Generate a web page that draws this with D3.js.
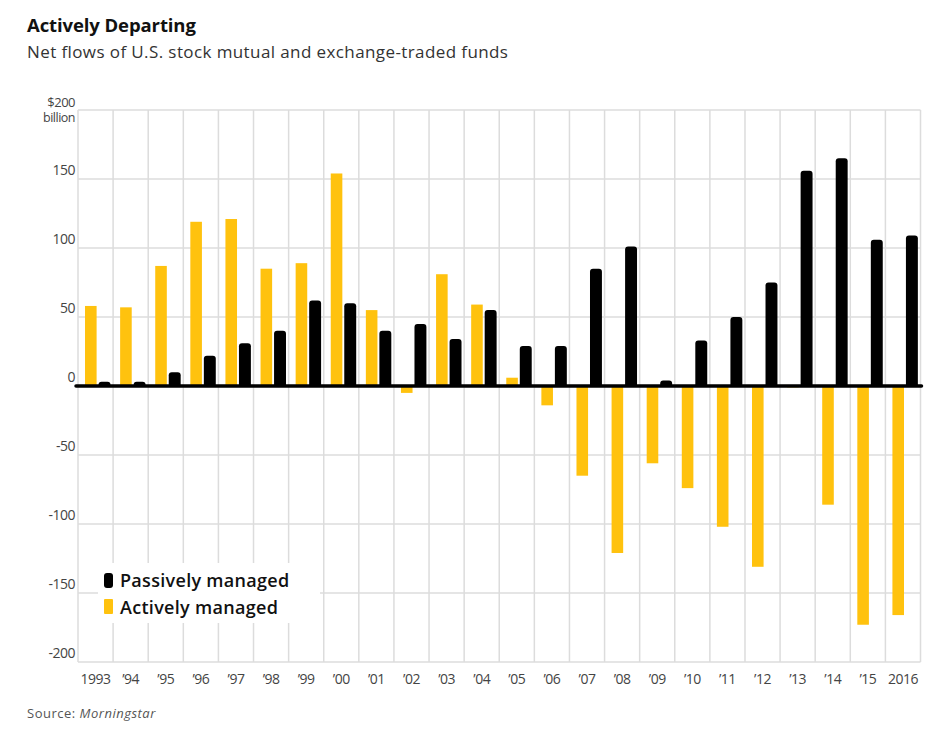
<!DOCTYPE html>
<html>
<head>
<meta charset="utf-8">
<script src="https://cdn.jsdelivr.net/npm/d3@7"></script>
<style>
  html, body { margin: 0; padding: 0; background: #fff; }
  svg { display: block; font-family: "Open Sans", "Noto Sans", sans-serif; }
</style>
</head>
<body>
<svg id="chart" width="942" height="745"></svg>
<script>
const years = ["1993","’94","’95","’96","’97","’98","’99","’00","’01","’02","’03","’04","’05","’06","’07","’08","’09","’10","’11","’12","’13","’14","’15","2016"];
const passive = [3, 3, 10, 22, 31, 40, 62, 60, 40, 45, 34, 55, 29, 29, 85, 101, 4, 33, 50, 75, 156, 165, 106, 109];
const active  = [58, 57, 87, 119, 121, 85, 89, 154, 55, -5, 81, 59, 6, -14, -65, -121, -56, -74, -102, -131, -1, -86, -173, -166];
const yTicks = [200, 150, 100, 50, 0, -50, -100, -150, -200];
const seriesNames = ["Passively managed", "Actively managed"];
const colors = { passive: "#000000", active: "#FFC20E" };

(function () {
const svg = d3.select("#chart");
const pLeft = 78, pRight = 920.5, pTop = 110, pBottom = 662;

const x = d3.scaleBand().domain(years).range([pLeft, pRight]).padding(0);
const y = d3.scaleLinear().domain([-200, 200]).range([pBottom, pTop]);
const bw = x.bandwidth();

// Title
svg.append("text").attr("x", 27).attr("y", 32)
  .attr("font-size", 18.5).attr("font-weight", 700).attr("fill", "#111")
  .attr("letter-spacing", -0.1)
  .text("Actively Departing");
svg.append("text").attr("x", 27).attr("y", 58)
  .attr("font-size", 17).attr("fill", "#333")
  .attr("letter-spacing", 0.4)
  .text("Net flows of U.S. stock mutual and exchange-traded funds");

// Grid
const grid = svg.append("g").attr("stroke", "#dcdcdc").attr("stroke-width", 1.5);
yTicks.forEach(t => {
  grid.append("line").attr("x1", pLeft).attr("x2", pRight).attr("y1", y(t)).attr("y2", y(t));
});
const vlines = years.map(d => x(d)).concat([pRight]);
vlines.forEach(v => {
  grid.append("line").attr("x1", v).attr("x2", v).attr("y1", pTop).attr("y2", pBottom);
});

// Y axis labels
const yAxis = d3.axisLeft(y).tickValues(yTicks).tickSize(0).tickFormat(d => d === 200 ? "$200" : (d < 0 ? "-" + Math.abs(d) : String(d)));
const ya = svg.append("g").attr("transform", `translate(${pLeft - 3},0)`).call(yAxis);
ya.select(".domain").remove();
ya.selectAll("text").attr("font-size", 14).attr("fill", "#444")
  .attr("font-family", "'Open Sans', sans-serif")
  .attr("dy", -5).attr("text-anchor", "end").attr("x", 0)
  .attr("letter-spacing", -0.5);
ya.selectAll(".tick").filter(d => d === 200).select("text").attr("font-size", 13).attr("dy", -4);
svg.append("text").attr("x", pLeft - 3).attr("y", y(200) + 12).attr("text-anchor", "end")
  .attr("font-size", 12.5).attr("fill", "#444").attr("letter-spacing", -0.5).text("billion");

// X axis labels
const xAxis = d3.axisBottom(x).tickSize(0);
const xa = svg.append("g").attr("transform", `translate(0,${pBottom})`).call(xAxis);
xa.select(".domain").remove();
xa.selectAll("text").attr("font-size", 14).attr("fill", "#444")
  .attr("font-family", "'Open Sans', sans-serif")
  .attr("dy", 0).attr("y", 22).attr("letter-spacing", -0.5);

// Active bars (yellow)
svg.append("g").selectAll("rect").data(active).join("rect")
  .attr("x", (d, i) => x(years[i]) + bw * 0.2)
  .attr("width", bw * 0.33)
  .attr("y", d => d >= 0 ? y(d) : y(0))
  .attr("height", d => Math.abs(y(d) - y(0)))
  .attr("fill", colors.active);

// Passive bars (black) with rounded tops
function roundTop(x0, w, yTop, yBase, r) {
  const h = yBase - yTop;
  const rr = Math.min(r, h, w / 2);
  return `M${x0},${yBase} L${x0},${yTop + rr} Q${x0},${yTop} ${x0 + rr},${yTop} L${x0 + w - rr},${yTop} Q${x0 + w},${yTop} ${x0 + w},${yTop + rr} L${x0 + w},${yBase} Z`;
}
svg.append("g").selectAll("path").data(passive).join("path")
  .attr("d", (d, i) => roundTop(x(years[i]) + bw * 0.585, bw * 0.34, y(d), y(0), 3))
  .attr("fill", colors.passive);

// Zero line
svg.append("line").attr("x1", pLeft - 2).attr("x2", pRight + 1).attr("y1", y(0)).attr("y2", y(0))
  .attr("stroke", "#000").attr("stroke-width", 3.5).attr("stroke-linecap", "round");

// Legend
const lg = svg.append("g");
lg.append("rect").attr("x", 98).attr("y", 563).attr("width", 222).attr("height", 60).attr("fill", "#fff");
lg.append("rect").attr("x", 104).attr("y", 573).attr("width", 9).attr("height", 15).attr("rx", 3).attr("fill", colors.passive);
lg.append("rect").attr("x", 104).attr("y", 599).attr("width", 9).attr("height", 15).attr("rx", 1).attr("fill", colors.active);
lg.append("text").attr("x", 120).attr("y", 587).attr("font-size", 18).attr("font-weight", 600).attr("fill", "#111")
  .attr("letter-spacing", 0.3).text(seriesNames[0]);
lg.append("text").attr("x", 120).attr("y", 614).attr("font-size", 18).attr("font-weight", 600).attr("fill", "#111")
  .attr("letter-spacing", 0.3).text(seriesNames[1]);

// Source
const src = svg.append("text").attr("x", 27).attr("y", 718).attr("font-size", 13).attr("fill", "#555")
  .attr("letter-spacing", 0.5);
src.append("tspan").text("Source: ");
src.append("tspan").attr("font-style", "italic").text("Morningstar");
})();
</script>
</body>
</html>
